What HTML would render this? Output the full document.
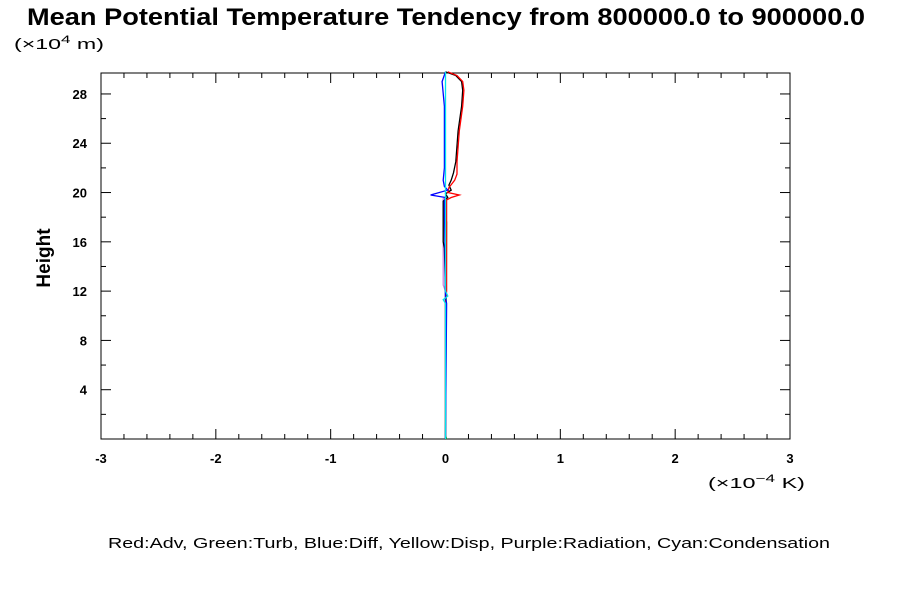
<!DOCTYPE html>
<html><head><meta charset="utf-8"><style>
body{margin:0;background:#fff;}
svg{display:block;font-family:"Liberation Sans",sans-serif;}
</style></head><body>
<svg id="c" width="900" height="600">
<text x="27" y="25" font-size="24" font-weight="bold" textLength="838" lengthAdjust="spacingAndGlyphs">Mean Potential Temperature Tendency from 800000.0 to 900000.0</text>
<text x="14" y="49" font-size="15" textLength="90" lengthAdjust="spacingAndGlyphs">(×10<tspan dy="-6" font-size="11">4</tspan><tspan dy="6"> m)</tspan></text>
<text x="50" y="258" text-anchor="middle" font-size="19" font-weight="bold" transform="rotate(-90 50 258)">Height</text>
<text x="708" y="488" font-size="15" textLength="97" lengthAdjust="spacingAndGlyphs">(×10<tspan dy="-6" font-size="11">−4</tspan><tspan dy="6"> K)</tspan></text>
<text x="108" y="548" font-size="15" textLength="722" lengthAdjust="spacingAndGlyphs">Red:Adv, Green:Turb, Blue:Diff, Yellow:Disp, Purple:Radiation, Cyan:Condensation</text>
<g id="axes"></g>
<g id="series"></g>
</svg>
<script>
const xTicks=[-3,-2,-1,0,1,2,3];
const yTicks=[4,8,12,16,20,24,28];
const redH=[29.8,29.5,29,28.3,27,25,22.5,21.5,21,20.4,20,19.8,19.6,19.4,12.5,12,11,0];
const redV=[0.02,0.10,0.15,0.16,0.15,0.12,0.10,0.10,0.08,0.03,0.02,0.12,0.05,0.01,0.01,0.01,0.0,0];
const blackH=[29.8,29.5,29,28.3,27,25,22.5,21.6,21,20.6,20.2,19.9,19.6,19.3,16,15.5,12,0];
const blackV=[0.0,0.09,0.14,0.15,0.14,0.11,0.09,0.07,0.05,0.03,0.05,0.0,0.02,-0.02,-0.02,-0.01,0,0];
const blueH=[29.8,29,27,22,21,20.5,20.2,19.8,19.6,19.3,11.5,11,0];
const blueV=[0,-0.03,-0.01,-0.01,-0.02,-0.01,0.02,-0.13,0.0,-0.01,0.0,0.01,0];
const purpleH=[19.7,19.5,17,14,12.5,12,0];
const purpleV=[0.02,-0.02,-0.02,-0.02,-0.02,0,0];
const cyanH=[29.8,12,11.6,11.3,11,0];
const cyanV=[0,0,0.02,-0.02,0,0];
const greenH=[18,17.6,0.3,0];
const greenV=[0,0.01,0,0.01];
const X0=101,X1=790,Y0=439,Y1=73,XMIN=-3,XMAX=3,YMIN=0,YMAX=29.7;
const sx=v=>X0+(v-XMIN)/(XMAX-XMIN)*(X1-X0);
const sy=v=>Y0-(v-YMIN)/(YMAX-YMIN)*(Y0-Y1);
const NS='http://www.w3.org/2000/svg';
const ax=document.getElementById('axes'),sr=document.getElementById('series');
function mk(p,t,a){const e=document.createElementNS(NS,t);for(const k in a)e.setAttribute(k,a[k]);p.appendChild(e);return e;}
const fr=mk(ax,'rect',{x:X0,y:Y1,width:X1-X0,height:Y0-Y1,fill:'none',stroke:'#000','stroke-width':1});


for(let v=-3;v<=3.001;v+=0.2){const x=sx(v);const maj=Math.abs(v-Math.round(v))<0.01;const L=maj?10:5;
mk(ax,'line',{x1:x,y1:Y0,x2:x,y2:Y0-L,stroke:'#000'});mk(ax,'line',{x1:x,y1:Y1,x2:x,y2:Y1+L,stroke:'#000'});}
for(let v=2;v<=29;v+=2){const y=sy(v);const maj=v%4==0;const L=maj?10:5;
mk(ax,'line',{x1:X0,y1:y,x2:X0+L,y2:y,stroke:'#000'});mk(ax,'line',{x1:X1,y1:y,x2:X1-L,y2:y,stroke:'#000'});}
xTicks.forEach(v=>{const t=mk(ax,'text',{x:sx(v),y:Y0+24,'text-anchor':'middle','font-size':13,'font-weight':'bold'});t.textContent=v;

});
yTicks.forEach(v=>{const t=mk(ax,'text',{x:X0-14,y:sy(v)+5,'text-anchor':'end','font-size':13,'font-weight':'bold'});t.textContent=v;

});
const zl=mk(sr,'line',{x1:sx(0),y1:Y1,x2:sx(0),y2:Y0,stroke:'#aaa'});


function line(H,V,c,n){const d=H.map((h,i)=>(i?'L':'M')+sx(V[i]).toFixed(1)+','+sy(h).toFixed(1)).join('');
const p=mk(sr,'path',{d:d,fill:'none',stroke:c,'stroke-width':1.3});

}
line(purpleH,purpleV,'#cc88dd','line-radiation');
line(greenH,greenV,'#00cc00','line-turb');
line(blackH,blackV,'#000','line-total');
line(redH,redV,'#f00','line-adv');
line(blueH,blueV,'#00f','line-diff');
line(cyanH,cyanV,'#00e5ee','line-condensation');
</script>
</body></html>
